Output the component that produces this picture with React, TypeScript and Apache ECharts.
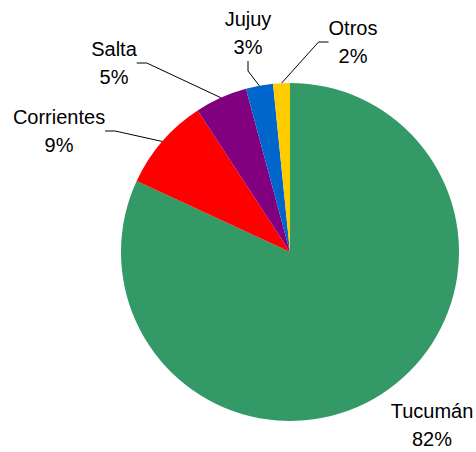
import React, { useEffect, useRef } from "react";
import * as echarts from "echarts";

const categories = ["Tucumán", "Corrientes", "Salta", "Jujuy", "Otros"];
const values = [81.9, 8.9, 5.0, 2.6, 1.6];
const colors = ["#339966", "#FF0000", "#800080", "#0066CC", "#FFCC00"];
// label centre positions in px (layout only)
const labelPos: [number, number][] = [
  [432, 425],
  [59, 131],
  [114, 63],
  [248, 33],
  [353, 42],
];

export default function App() {
  const ref = useRef<HTMLDivElement>(null);
  useEffect(() => {
    if (!ref.current) return;
    const chart = echarts.init(ref.current, null, { renderer: "svg" });
    const total = values.reduce((a, b) => a + b, 0);
    chart.setOption({
      animation: false,
      backgroundColor: "#ffffff",
      series: [
        {
          type: "pie",
          center: [290, 252],
          radius: 169,
          startAngle: 90,
          clockwise: true,
          itemStyle: { borderWidth: 0 },
          label: {
            show: true,
            position: "outside",
            color: "#000",
            fontSize: 20,
            lineHeight: 28,
            overflow: "none",
            fontFamily: "Liberation Sans, Arial, sans-serif",
            align: "center",
            formatter: (p: any) => `${p.name}\n${Math.round((p.value / total) * 100)}%`,
          },
          labelLine: {
            show: true,
            length: 10,
            length2: 10,
            lineStyle: { color: "#000", width: 1 },
          },
          labelLayout: (params: any) => {
            const [x, y] = labelPos[params.dataIndex];
            return { x, y, align: "center", verticalAlign: "middle" };
          },
          data: categories.map((name, i) => ({
            name,
            value: values[i],
            itemStyle: { color: colors[i] },
            labelLine: { show: i !== 0 },
          })),
        },
      ],
    });
    return () => chart.dispose();
  }, []);
  return (
    <div
      ref={ref}
      style={{ position: "fixed", left: 0, top: 0, width: 476, height: 452 }}
    />
  );
}
